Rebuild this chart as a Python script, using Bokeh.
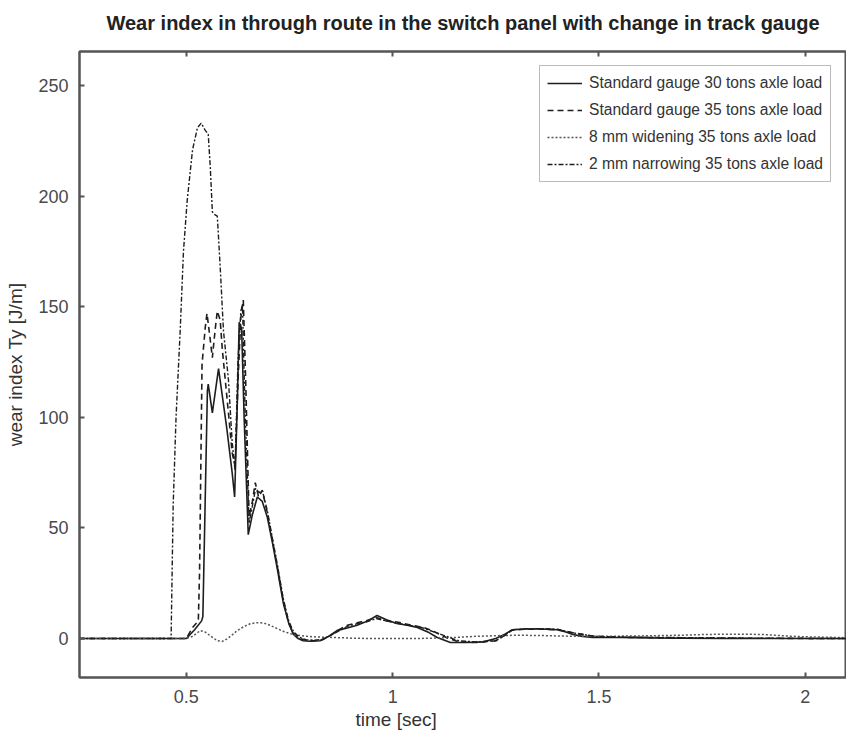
from bokeh.plotting import figure
from bokeh.models import (LinearAxis, FixedTicker, NumeralTickFormatter, Title, Legend, LegendItem,
                          CustomLabelingPolicy)
from bokeh.embed import file_html
from bokeh.resources import INLINE

# ---- data ----
t_s30 = [0.24, 0.50, 0.52, 0.537, 0.540, 0.551, 0.553, 0.563, 0.578, 0.598, 0.611, 0.617, 0.624, 0.628,
         0.634, 0.640, 0.650, 0.660, 0.672, 0.684, 0.696, 0.708, 0.720, 0.735, 0.748, 0.759, 0.771, 0.783,
         0.80, 0.824, 0.845, 0.865, 0.89, 0.914, 0.94, 0.962, 0.985, 1.01, 1.035, 1.06, 1.085, 1.108, 1.14,
         1.18, 1.22, 1.25, 1.272, 1.29, 1.32, 1.36, 1.398, 1.42, 1.437, 1.46, 1.485, 1.55, 1.62, 1.70, 1.80,
         1.90, 2.00, 2.10]
y_s30 = [0, 0, 4, 8, 10, 112, 115, 102, 122, 95, 75, 64, 110, 143,
         140, 100, 47, 56, 64, 62, 55, 44, 32, 16, 7, 2, 0, -1,
         -1.2, -1, 1, 3.6, 4.8, 6, 8, 10.4, 8.5, 6.8, 6, 5, 3, 0.5, -1.8,
         -1.8, -1.5, 0, 2, 4, 4.3, 4.3, 4, 3, 1.8, 1, 0.5, 0.5, 0.3, 0.2, 0,
         0, 0, 0]

t_s35 = [0.24, 0.50, 0.515, 0.529, 0.532, 0.538, 0.546, 0.550, 0.556, 0.563, 0.570, 0.575, 0.582, 0.587,
         0.602, 0.611, 0.618, 0.626, 0.632, 0.638, 0.644, 0.652, 0.660, 0.667, 0.675, 0.684, 0.696, 0.708,
         0.720, 0.735, 0.748, 0.76, 0.775, 0.79, 0.81, 0.83, 0.85, 0.87, 0.89, 0.91, 0.935, 0.96, 0.985,
         1.01, 1.035, 1.06, 1.075, 1.09, 1.105, 1.13, 1.16, 1.2, 1.25, 1.272, 1.29, 1.32, 1.36, 1.40, 1.44,
         1.49, 1.55, 1.65, 1.75, 1.85, 1.95, 2.1]
y_s35 = [0, 0, 5, 8, 30, 124, 141, 147, 138, 127, 140, 148, 144, 131,
         102, 84, 78, 120, 145, 153, 115, 55, 62, 70.5, 64, 67, 57, 45,
         33, 17, 7, 2.5, 0, -0.8, -1, -0.5, 1.5, 4, 6, 7, 8, 9.5, 8,
         7.5, 6.5, 5.5, 5, 4, 2.7, 0.5, -1.5, -1.8, -1, 1.5, 3.8, 4.2, 4.3, 4, 2.5,
         1, 0.6, 0.4, 0.2, 0.2, 0.1, 0]

t_w8 = [0.24, 0.50, 0.515, 0.527, 0.534, 0.545, 0.56, 0.575, 0.587, 0.60, 0.612, 0.623, 0.64, 0.655,
        0.672, 0.688, 0.703, 0.72, 0.736, 0.752, 0.77, 0.793, 0.82, 0.856, 0.9, 0.95, 1.0, 1.05, 1.1,
        1.15, 1.2, 1.25, 1.3, 1.35, 1.4, 1.45, 1.5, 1.6, 1.7, 1.75, 1.8, 1.85, 1.9, 1.95, 2.0, 2.1]
y_w8 = [0, 0, 1, 2.7, 3.6, 3, 1, -1, -1.3, 0, 1.8, 3.6, 5.5, 6.7,
        7.2, 7, 6, 4.5, 3.2, 2.2, 1.5, 1, 0.7, 0.5, 0.2, 0, 0, 0, 0.2,
        0.5, 1, 1.3, 1.5, 1.4, 1.2, 1, 1, 1.2, 1.5, 1.8, 2, 2, 1.8, 1.2, 0.8, 0.4]

t_n2 = [0.24, 0.463, 0.468, 0.475, 0.485, 0.493, 0.502, 0.515, 0.527, 0.536, 0.545, 0.553, 0.558, 0.563,
        0.566, 0.575, 0.582, 0.590, 0.602, 0.611, 0.618, 0.625, 0.632, 0.636, 0.642, 0.652, 0.660, 0.668,
        0.676, 0.684, 0.696, 0.708, 0.72, 0.735, 0.748, 0.76, 0.775, 0.79, 0.81, 0.83, 0.85, 0.87, 0.89,
        0.91, 0.935, 0.96, 0.985, 1.01, 1.04, 1.07, 1.1, 1.13, 1.16, 1.2, 1.25, 1.272, 1.29, 1.33, 1.37,
        1.40, 1.44, 1.49, 1.55, 1.65, 1.75, 1.85, 1.95, 2.1]
y_n2 = [0, 0, 60, 100, 139, 175, 198, 221, 231, 233, 230, 228, 213, 193,
        192, 191, 168, 139, 117, 89, 76, 125, 148, 151, 105, 52, 60, 68,
        66, 67, 58, 46, 34, 18, 8, 3, 0.5, -0.5, -0.8, -0.3, 1.5, 3.5, 5.5,
        6.5, 7.5, 9, 8, 7, 6, 5, 3, 1, -1, -1.5, -1, 1.5, 4, 4.5, 4.5,
        4.2, 2.5, 1, 0.7, 0.5, 0.4, 0.2, 0.1, 0]

labels = ["Standard gauge 30 tons axle load",
          "Standard gauge 35 tons axle load",
          "8 mm widening 35 tons axle load",
          "2 mm narrowing 35 tons axle load"]

x_ticks = [0.5, 1.0, 1.5, 2.0]
y_ticks = [0, 50, 100, 150, 200, 250]

FONT = "Liberation Sans"
AX = "#555555"
TXT = "#4a4a4a"

p = figure(width=846, height=738, x_range=(0.241, 2.1), y_range=(-17.6, 265.4),
           output_backend="svg", toolbar_location=None,
           min_border_left=79, min_border_right=0, min_border_top=51, min_border_bottom=61,
           x_axis_label=None, y_axis_label="wear index Ty [J/m]")
p.xgrid.visible = False
p.ygrid.visible = False
p.outline_line_color = AX
p.outline_line_width = 2
p.background_fill_color = "white"
p.border_fill_color = "white"

p.title.text = "Wear index in through route in the switch panel with change in track gauge"
p.title.align = "center"
p.title.vertical_align = "top"
p.title.text_font = FONT
p.title.text_font_size = "20px"
p.title.text_font_style = "bold"
p.title.text_color = "#222222"
p.title.offset = 0

def style_axis(ax, labels_on=True):
    ax.axis_line_color = AX
    ax.axis_line_width = 2
    ax.major_tick_line_color = AX
    ax.major_tick_line_width = 2
    ax.major_tick_in = 5
    ax.major_tick_out = 0
    ax.minor_tick_line_color = None
    ax.major_label_text_font = FONT
    ax.major_label_text_color = TXT
    if labels_on:
        ax.major_label_text_font_size = "18px"
    else:
        ax.major_label_policy = CustomLabelingPolicy(code="return new Set()")
        ax.major_label_standoff = 0

xa = p.xaxis[0]
ya = p.yaxis[0]
xa.ticker = FixedTicker(ticks=x_ticks)
ya.ticker = FixedTicker(ticks=y_ticks)
xa.formatter = NumeralTickFormatter(format="0.[0]")
style_axis(xa)
style_axis(ya)
xa.major_label_standoff = 12
ya.major_label_standoff = 11
ya.axis_label_text_font = FONT
ya.axis_label_text_font_size = "19px"
ya.axis_label_text_font_style = "normal"
ya.axis_label_text_color = "#333333"
ya.axis_label_standoff = 9

# top axis: ticks only (mirrored box ticks)
top = LinearAxis(ticker=FixedTicker(ticks=x_ticks))
style_axis(top, False)
p.add_layout(top, "above")

xlab = Title(text="time [sec]", align="left", offset=276, text_font=FONT,
             text_font_size="19px", text_font_style="normal", text_color="#333333", standoff=2)
p.add_layout(xlab, "below")

INK = "#1e1e1e"
r1 = p.line(t_s30, y_s30, line_color=INK, line_width=1.6)
r2 = p.line(t_s35, y_s35, line_color=INK, line_width=1.6, line_dash="6 4")
r3 = p.line(t_w8, y_w8, line_color="#555555", line_width=1.5, line_dash="2 2")
r4 = p.line(t_n2, y_n2, line_color=INK, line_width=1.4, line_dash="5 2 2 2")

legend = Legend(items=[LegendItem(label=labels[0], renderers=[r1]),
                       LegendItem(label=labels[1], renderers=[r2]),
                       LegendItem(label=labels[2], renderers=[r3]),
                       LegendItem(label=labels[3], renderers=[r4])],
                location=(460, 495))
legend.label_text_font = FONT
legend.label_text_font_size = "15.6px"
legend.label_text_color = "#333333"
legend.glyph_width = 35
legend.glyph_height = 20
legend.label_height = 20
legend.spacing = 7
legend.padding = 7
legend.margin = 0
legend.label_standoff = 7
legend.border_line_color = "#777777"
legend.border_line_width = 1.5
legend.background_fill_alpha = 1
p.add_layout(legend, "center")

open("out.html", "w").write(file_html(p, INLINE))
